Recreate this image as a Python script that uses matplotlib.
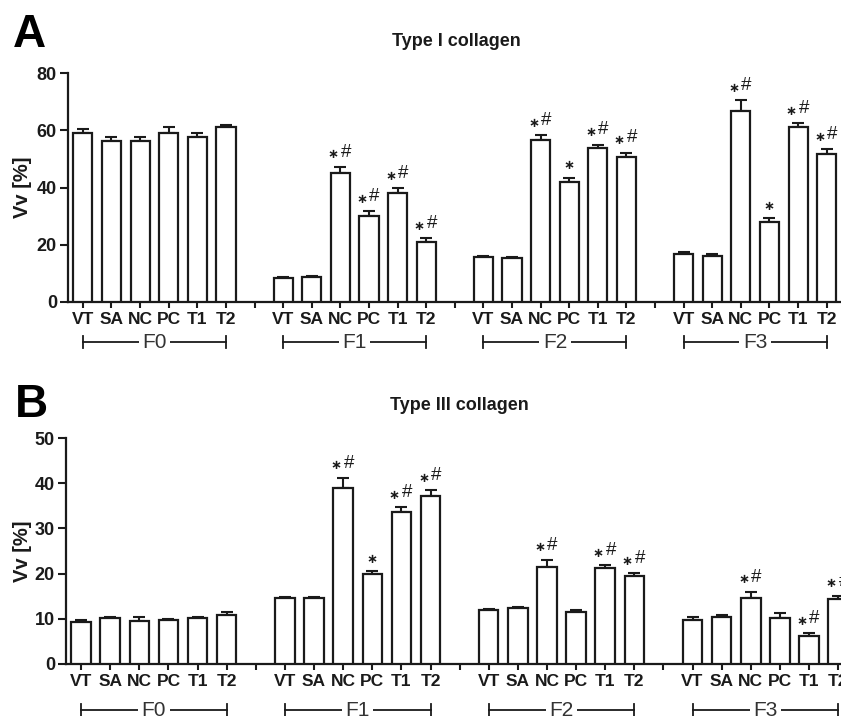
import matplotlib
matplotlib.use("Agg")
import matplotlib.pyplot as plt
import matplotlib.transforms as mtransforms
import numpy as np

plt.rcParams['font.family'] = ['Liberation Sans', 'DejaVu Sans']

groups = ['F0', 'F1', 'F2', 'F3']
treatments = ['VT', 'SA', 'NC', 'PC', 'T1', 'T2']

typeI_means = [
    [59.0, 56.1, 56.1, 59.2, 57.5, 61.0],
    [8.4, 8.8, 45.2, 30.0, 38.2, 20.8],
    [15.6, 15.4, 56.5, 41.8, 53.7, 50.7],
    [16.8, 16.2, 66.8, 27.8, 61.2, 51.6],
]
typeI_errors = [
    [1.4, 1.5, 1.6, 1.8, 1.5, 1.0],
    [0.3, 0.2, 2.1, 1.8, 1.5, 1.4],
    [0.5, 0.4, 1.9, 1.6, 1.3, 1.5],
    [0.5, 0.4, 3.6, 1.4, 1.3, 1.7],
]
typeI_marks = [
    ['', '', '', '', '', ''],
    ['', '', '*#', '*#', '*#', '*#'],
    ['', '', '*#', '*', '*#', '*#'],
    ['', '', '*#', '*', '*#', '*#'],
]

typeIII_means = [
    [9.4, 10.2, 9.5, 9.7, 10.2, 10.9],
    [14.5, 14.5, 38.9, 19.9, 33.6, 37.2],
    [12.0, 12.4, 21.5, 11.5, 21.2, 19.5],
    [9.7, 10.5, 14.7, 10.2, 6.3, 14.3],
]
typeIII_errors = [
    [0.3, 0.2, 0.9, 0.2, 0.3, 0.5],
    [0.3, 0.3, 2.3, 0.6, 1.1, 1.3],
    [0.2, 0.2, 1.6, 0.4, 0.7, 0.6],
    [0.7, 0.3, 1.3, 1.0, 0.5, 0.8],
]
typeIII_marks = [
    ['', '', '', '', '', ''],
    ['', '', '*#', '*', '*#', '*#'],
    ['', '', '*#', '', '*#', '*#'],
    ['', '', '*#', '', '*#', '*#'],
]

typeI_yticks = [0, 20, 40, 60, 80]
typeIII_yticks = [0, 10, 20, 30, 40, 50]

INK = '#1a1a1a'
W, H = 841, 716
fig = plt.figure(figsize=(W / 100, H / 100), dpi=100)


def star(ax, x, top, dx):
    ax.annotate('\u2217', (x, top), xytext=(dx, 8.5), textcoords='offset points',
                ha='center', va='center', fontsize=9.5, family=['DejaVu Sans'],
                fontweight='bold', color=INK, annotation_clip=False)


def hash_mark(ax, x, top, dx):
    ax.annotate('#', (x, top), xytext=(dx, 10.5), textcoords='offset points',
                ha='center', va='center', fontsize=13.5, color=INK,
                annotation_clip=False)


def draw_panel(rect, means, errors, marks, yticks, xmax, group_y, title, title_xy, letter, letter_xy, ylab_y):
    ax = fig.add_axes(rect)
    n_t = len(treatments)
    step = n_t + 1
    positions, labels = [], []
    for g in range(len(groups)):
        xs = [g * step + i for i in range(n_t)]
        ax.bar(xs, means[g], width=0.67, color='white', edgecolor=INK, linewidth=1.6, zorder=3)
        ax.errorbar(xs, means[g], yerr=[np.zeros(n_t), errors[g]], fmt='none', ecolor=INK,
                    elinewidth=1.5, capsize=4.5, capthick=1.5, zorder=2)
        for i, x in enumerate(xs):
            m = marks[g][i]
            top = means[g][i] + errors[g][i]
            if m == '*#':
                star(ax, x, top, -5)
                hash_mark(ax, x, top, 4)
            elif m == '*':
                star(ax, x, top, 0)
        positions += xs
        labels += treatments
        if g < len(groups) - 1:
            positions.append(g * step + n_t)
            labels.append('')
        # group bracket
        trans = mtransforms.blended_transform_factory(ax.transData, ax.transAxes)
        x0, x1 = xs[0], xs[-1]
        ax.plot([x0, x1], [group_y, group_y], color=INK, lw=1.3, transform=trans, clip_on=False)
        for xe in (x0, x1):
            ax.plot([xe, xe], [group_y - 0.025, group_y + 0.025], color=INK, lw=1.3,
                    transform=trans, clip_on=False)
        ax.text((x0 + x1) / 2, group_y, groups[g], transform=trans, ha='center', va='center',
                fontsize=15, color='#333333',
                bbox=dict(facecolor='white', edgecolor='none', pad=2.5))

    ax.set_xlim(-0.52, xmax)
    ax.set_ylim(yticks[0], yticks[-1])
    ax.set_yticks(yticks)
    ax.set_xticks(positions)
    ax.set_xticklabels(labels)
    for s in ('top', 'right'):
        ax.spines[s].set_visible(False)
    for s in ('left', 'bottom'):
        ax.spines[s].set_linewidth(1.6)
        ax.spines[s].set_color(INK)
    ax.tick_params(axis='y', length=6, width=1.5, colors=INK, labelsize=13, pad=2)
    ax.tick_params(axis='x', length=4, width=1.5, colors=INK, labelsize=12.5, pad=3)
    for lab in ax.get_xticklabels() + ax.get_yticklabels():
        lab.set_fontweight('bold')
    fig.text(title_xy[0], title_xy[1], title, ha='center', va='center', fontsize=13,
             fontweight='bold', color=INK)
    fig.text(letter_xy[0], letter_xy[1], letter, ha='left', va='top', fontsize=33,
             fontweight='bold', color='black')
    fig.text(23 / W, ylab_y, 'Vv [%]', rotation=90, ha='center', va='center', fontsize=14.5,
             fontweight='bold', color=INK)
    return ax


# Panel A
a_left, a_top, a_bot = 68, 73, 302
draw_panel([a_left / W, 1 - a_bot / H, 1 - a_left / W, (a_bot - a_top) / H],
           typeI_means, typeI_errors, typeI_marks, typeI_yticks, 26.5,
           (a_bot - 342) / (a_bot - a_top), 'Type I collagen', (456 / W, 1 - 41 / H),
           'A', (13 / W, 1 - 13 / H), 1 - (a_top + a_bot) / 2 / H)

# Panel B
b_left, b_top, b_bot = 66, 438, 664
draw_panel([b_left / W, 1 - b_bot / H, 1 - b_left / W, (b_bot - b_top) / H],
           typeIII_means, typeIII_errors, typeIII_marks, typeIII_yticks, 26.1,
           (b_bot - 710) / (b_bot - b_top), 'Type III collagen', (459 / W, 1 - 405 / H),
           'B', (15 / W, 1 - 383 / H), 1 - (b_top + b_bot) / 2 / H)

fig.savefig('out.png', dpi=100, facecolor='white')
